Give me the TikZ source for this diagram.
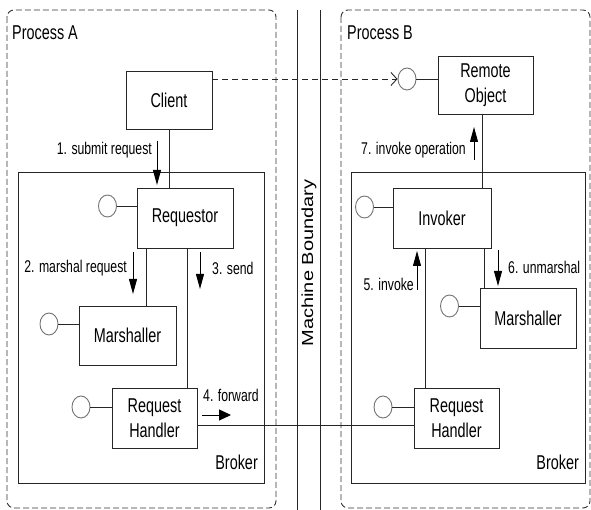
\documentclass[tikz,border=0pt]{standalone}
\usepackage{fontspec}
\setmainfont[FakeStretch=0.72]{Liberation Sans}
\newfontfamily\uprightfont{Liberation Sans}
\usetikzlibrary{arrows.meta,shapes.geometric}

\tikzset{
  box/.style={draw=black!85, line width=0.9pt, fill=white, inner sep=0pt,
    align=center, font=\fontsize{20}{24.5}\selectfont},
  lolli/.style={draw=black!55, line width=0.9pt, ellipse, inner sep=0pt,
    minimum width=18pt, minimum height=22pt},
  wire/.style={draw=black!85, line width=0.9pt},
  proc/.style={draw=black!80, line width=0.9pt, dash pattern=on 6pt off 3pt,
    rounded corners=7pt},
  lbl/.style={inner sep=0pt, font=\fontsize{17}{20}\selectfont, text=black},
  title/.style={inner sep=0pt, font=\fontsize{20}{24}\selectfont, text=black},
  vflow/.style={line width=0.9pt, -{Triangle[length=15pt,width=8pt]}},
  hflow/.style={line width=0.9pt, -{Triangle[length=12pt,width=11pt]}},
}

\begin{document}
\begin{tikzpicture}[x=1pt,y=-1pt]
\useasboundingbox (0,0) rectangle (591,510);

% process borders
\draw[proc] (7,10) rectangle (276,508);
\draw[proc] (341,10) rectangle (590,508);
\node[title, anchor=west] (pa) at (12,33) {Process A};
\node[title, anchor=west] (pb) at (347,33) {Process B};

% machine boundary
\coordinate (mb1t) at (297.5,10);
\coordinate (mb1b) at (297.5,510);
\coordinate (mb2t) at (320,10);
\coordinate (mb2b) at (320,510);
\draw[wire] (mb1t) -- (mb1b);
\draw[wire] (mb2t) -- (mb2b);
\node[rotate=90, inner sep=0pt] (mb) at (309,263)
  {\uprightfont\fontsize{20}{24}\selectfont\scalebox{1}[0.8]{Machine Boundary}};

% broker boxes
\draw[wire] (18,172) rectangle (264,483);
\draw[wire] (351,172) rectangle (585,483);
\node[title, anchor=east] (brA) at (258,462) {Broker};
\node[title, anchor=east] (brB) at (579,462) {Broker};

% components, process A
\node[box, minimum width=86pt, minimum height=58pt] (client) at (169,100) {Client};
\node[box, minimum width=96pt, minimum height=60pt] (req) at (185,218) {Requestor};
\node[box, minimum width=97pt, minimum height=59pt] (marA) at (127.5,335.5) {Marshaller};
\node[box, minimum width=85pt, minimum height=60pt] (rhA) at (154.5,418) {Request\\Handler};

% components, process B
\node[box, minimum width=95pt, minimum height=58pt] (ro) at (485.5,85) {Remote\\Object};
\node[box, minimum width=98pt, minimum height=60pt] (inv) at (442,218) {Invoker};
\node[box, minimum width=96pt, minimum height=60pt] (marB) at (528,318) {Marshaller};
\node[box, minimum width=85pt, minimum height=60pt] (rhB) at (456.5,418) {Request\\Handler};

% provided interfaces
\node[lolli] (reqI) at (107.5,206) {};
\node[lolli] (marAI) at (49,324) {};
\node[lolli] (rhAI) at (81,407) {};
\node[lolli] (roI) at (407,79) {};
\node[lolli] (invI) at (364.5,207) {};
\node[lolli] (marBI) at (449.5,306) {};
\node[lolli] (rhBI) at (383,407) {};
\draw[wire] (reqI) -- (reqI -| req.west);
\draw[wire] (marAI) -- (marAI -| marA.west);
\draw[wire] (rhAI) -- (rhAI -| rhA.west);
\draw[wire] (roI) -- (roI -| ro.west);
\draw[wire] (invI) -- (invI -| inv.west);
\draw[wire] (marBI) -- (marBI -| marB.west);
\draw[wire] (rhBI) -- (rhBI -| rhB.west);

% dependency from client to remote object
\draw[draw=black!85, line width=0.9pt, dash pattern=on 6pt off 4pt,
  -{Straight Barb[length=6pt,width=13pt]}] (client.east |- roI) -- (roI);

% links
\draw[wire] (client.south) -- (client.south |- req.north);
\draw[wire] ([xshift=10pt]req.south west) -- ([xshift=10pt]req.south west |- marA.north);
\draw[wire] ([xshift=-10pt]rhA.north east) -- ([xshift=-10pt]rhA.north east |- req.south);
\draw[wire] ([yshift=-7pt]rhA.east) -- ([yshift=-7pt]rhA.east -| rhB.west);
\draw[wire] ([xshift=-9pt]inv.north east) -- ([xshift=-9pt]inv.north east |- ro.south);
\draw[wire] ([xshift=12pt]rhB.north west) -- ([xshift=12pt]rhB.north west |- inv.south);
\draw[wire] ([xshift=5pt]marB.north west) -- ([xshift=5pt]marB.north west |- inv.south);

% message flow
\coordinate (f1s) at (157,141);  \coordinate (f1e) at (157,185);
\coordinate (f2s) at (133,252);  \coordinate (f2e) at (133,294);
\coordinate (f3s) at (200,252);  \coordinate (f3e) at (200,289);
\coordinate (f4s) at (202,415);  \coordinate (f4e) at (231,415);
\coordinate (f5s) at (417,290);  \coordinate (f5e) at (417,251);
\coordinate (f6s) at (498,250);  \coordinate (f6e) at (498,286);
\coordinate (f7s) at (474,160);  \coordinate (f7e) at (474,127);
\draw[vflow] (f1s) -- (f1e);
\draw[vflow] (f2s) -- (f2e);
\draw[vflow] (f3s) -- (f3e);
\draw[hflow] (f4s) -- (f4e);
\draw[vflow] (f5s) -- (f5e);
\draw[vflow] (f6s) -- (f6e);
\draw[vflow] (f7s) -- (f7e);

\node[lbl, anchor=east] (l1) at (152,150) {1. submit request};
\node[lbl, anchor=east] (l2) at (127,268) {2. marshal request};
\node[lbl, anchor=west] (l3) at (212,268) {3. send};
\node[lbl, anchor=west] (l4) at (203,395) {4. forward};
\node[lbl, anchor=east] (l5) at (414,284) {5. invoke};
\node[lbl, anchor=west] (l6) at (508,267) {6. unmarshal};
\node[lbl, anchor=east] (l7) at (466,150) {7. invoke operation};
\end{tikzpicture}
\end{document}
